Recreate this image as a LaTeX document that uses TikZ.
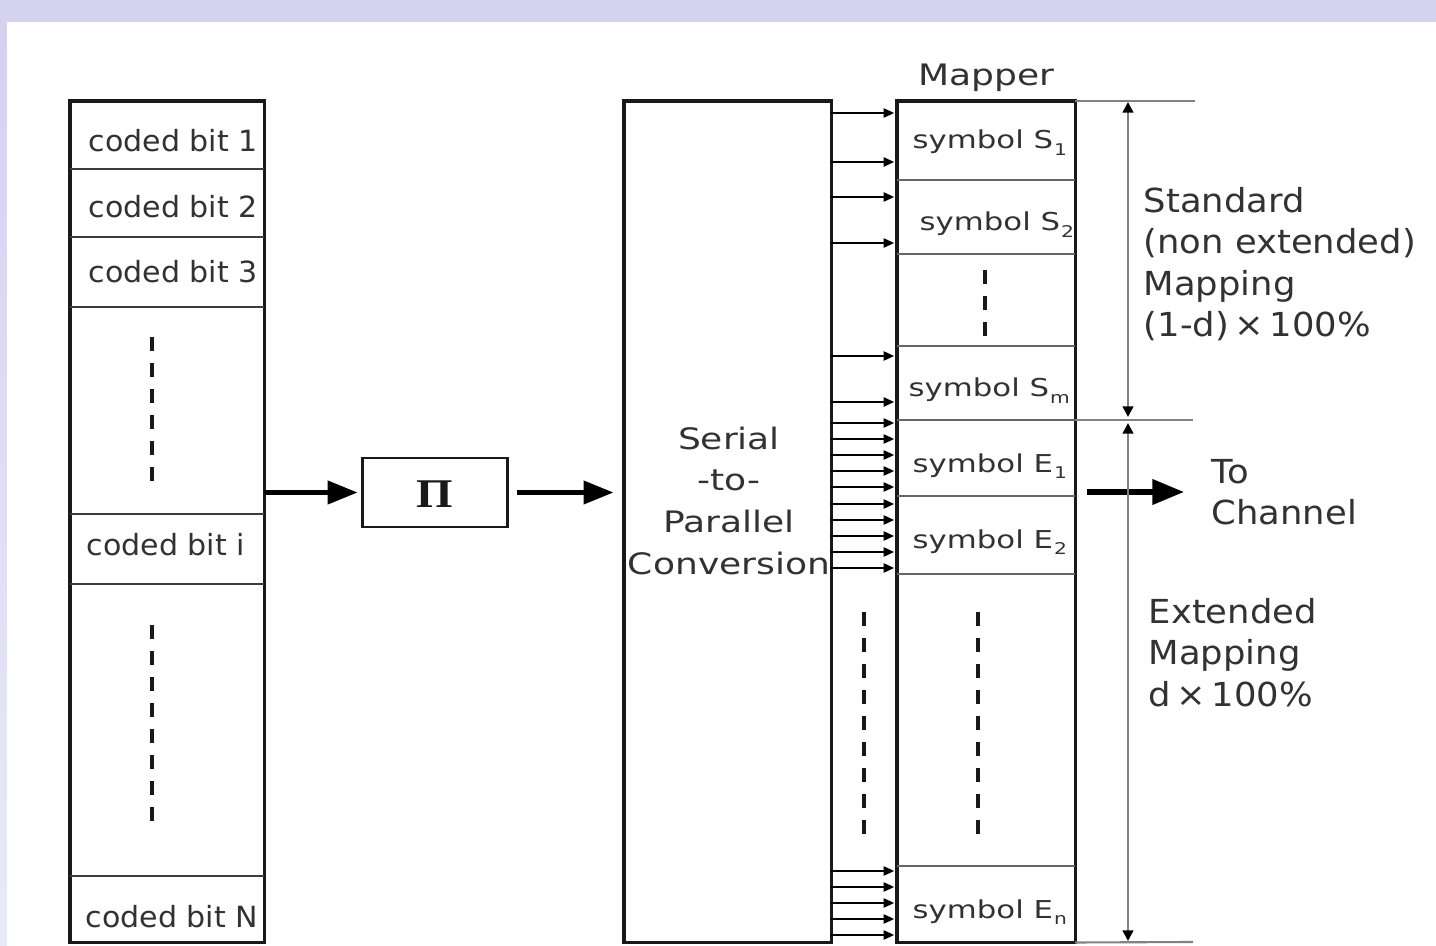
\documentclass[tikz,border=0pt]{standalone}
\usepackage{fontspec}
\setmainfont{DejaVu Sans}
\newfontfamily\fcell[FakeStretch=1.03]{DejaVu Sans}
\newfontfamily\fsym[FakeStretch=1.25]{DejaVu Sans}
\newfontfamily\fser[FakeStretch=1.22]{DejaVu Sans}
\newfontfamily\flab[FakeStretch=1.07]{DejaVu Sans}
\newfontfamily\fpi[FakeStretch=1.15]{Liberation Serif}
\newcommand\sbx[1]{\kern0.3pt\raisebox{-0.45ex}{\fontsize{4.6}{5}\selectfont #1}}
\usetikzlibrary{arrows.meta}
\definecolor{bgc}{RGB}{211,211,240}
\definecolor{bgl}{RGB}{233,233,248}
\definecolor{ink}{RGB}{25,25,25}
\definecolor{txt}{RGB}{50,50,50}
\definecolor{dimg}{RGB}{130,130,130}
\begin{document}
\begin{tikzpicture}[x=0.01cm,y=-0.01cm,
  boxframe/.style={draw=ink, line width=0.9pt, inner sep=0, outer sep=0, anchor=north west},
  div/.style={draw=ink!85, line width=0.6pt},
  sdiv/.style={draw=black!60, line width=0.6pt},
  dots/.style={draw=ink, line width=1.1pt, dash pattern=on 4pt off 3.4pt},
  cb/.style={font=\fcell\fontsize{8.3}{10}\selectfont, text=txt, inner sep=0, anchor=base west},
  sym/.style={font=\fsym\fontsize{7}{9}\selectfont, text=txt, inner sep=0, anchor=base west},
  big/.style={draw=black, line width=1.3pt, -{Triangle[length=8.5pt,width=6.5pt]}},
  sm/.style={draw=black, line width=0.55pt, -{Triangle[length=3pt,width=2.6pt]}},
  dim/.style={draw=dimg, line width=0.65pt, {Triangle[length=3pt,width=3pt,color=black]}-{Triangle[length=3pt,width=3pt,color=black]}},
  ext/.style={draw=dimg, line width=0.6pt},
  lab/.style={font=\flab\fontsize{9.4}{11.7}\selectfont, text=txt, inner sep=0, align=left, anchor=north west},
]
\useasboundingbox (0,0) rectangle (1436,946);
% background
\fill[bgc] (0,0) rectangle (1436,22);
\shade[top color=bgc, bottom color=bgl] (0,22) rectangle (7,946);
\fill[white] (7,22) rectangle (1436,946);

% main boxes
\node[boxframe, minimum width=1.94cm, minimum height=8.41cm] (col) at (70,101) {};
\node[boxframe, minimum width=2.07cm, minimum height=8.41cm] (s2p) at (624,101) {};
\node[boxframe, minimum width=1.78cm, minimum height=8.41cm] (map) at (897,101) {};
\node[draw=ink, line width=0.7pt, minimum width=1.45cm, minimum height=0.69cm, inner sep=0, outer sep=0] (pi) at (435,492.5) {};
\node[inner sep=0, font=\fpi\bfseries\fontsize{11.6}{12}\selectfont, text=ink] (pisym) at (435,494) {Π};

% left column dividers and texts
\foreach \y in {169,237,307,514,584,876}
  \draw[div] (col.west |- 0,\y) -- (col.east |- 0,\y);
\node[cb] (b1) at (88,152) {coded bit 1};
\node[cb] (b2) at (88,218) {coded bit 2};
\node[cb] (b3) at (88,283) {coded bit 3};
\node[cb] (bi) at (86,556) {coded bit i};
\node[cb] (bN) at (85,927) {coded bit N};
\draw[dots] (152,337) -- (152,482);
\draw[dots] (152,625) -- (152,825);

% serial-to-parallel text
\node[font=\fser\fontsize{8.4}{11.85}\selectfont, text=txt, align=center, anchor=north, inner sep=0] (s2pt) at (729,426) {Serial\\-to-\\Parallel\\Conversion};

% mapper
\node[font=\fser\fontsize{8.4}{10}\selectfont, text=txt, anchor=base, inner sep=0] (mlab) at (986,86) {Mapper};
\foreach \y in {180,254,346,420,496,574,866}
  \draw[sdiv] (map.west |- 0,\y) -- (map.east |- 0,\y);
\node[sym] (s1) at (912,149) {symbol S\sbx{1}};
\node[sym] (s2) at (919,231) {symbol S\sbx{2}};
\node[sym] (sm) at (908,397) {symbol S\sbx{m}};
\node[sym] (e1) at (912,472) {symbol E\sbx{1}};
\node[sym] (e2) at (912,548) {symbol E\sbx{2}};
\node[sym] (en) at (912,918) {symbol E\sbx{n}};
\draw[dots] (985,270) -- (985,338);
\draw[dots] (978,612) -- (978,838);
\draw[dots] (864,612) -- (864,838);

% parallel arrows
\foreach \y in {113,162,197,243,356,402,423,439,455,471,487,504,520,536,552,568,871,887,903,919,935}
  \draw[sm, shorten >=0.8pt] (s2p.east |- 0,\y) -- (map.west |- 0,\y);

% main flow arrows
\draw[big, shorten >=1.4pt] (col.east |- pi.west) -- (pi.west);
\draw[big, shorten <=2.8pt, shorten >=3pt] (pi.east) -- (s2p.west |- pi.east);
\coordinate (chan) at (1184,492);
\draw[big, line width=1.5pt, -{Triangle[length=9pt,width=7pt]}, shorten <=3.4pt] (map.east |- chan) -- (chan);

% dimension lines
\coordinate (x1) at (1195,101);
\coordinate (x2) at (1193,420);
\coordinate (x3) at (1193,942);
\draw[ext] (map.north east) -- (x1);
\draw[ext] (map.east |- x2) -- (x2);
\draw[ext] (map.south east) -- (x3);
\coordinate (d1) at (1128,102);
\coordinate (d2) at (1128,417);
\coordinate (d3) at (1128,423);
\coordinate (d4) at (1128,941);
\draw[dim] (d1) -- (d2);
\draw[dim] (d3) -- (d4);

% labels
\node[lab] (std) at (1143,187) {Standard\\(non extended)\\Mapping\\(1-d)\,×\,100\%};
\node[lab] (chn) at (1211,459) {To\\Channel};
\node[lab] (extm) at (1148,598) {Extended\\Mapping\\d\,×\,100\%};
\end{tikzpicture}
\end{document}
